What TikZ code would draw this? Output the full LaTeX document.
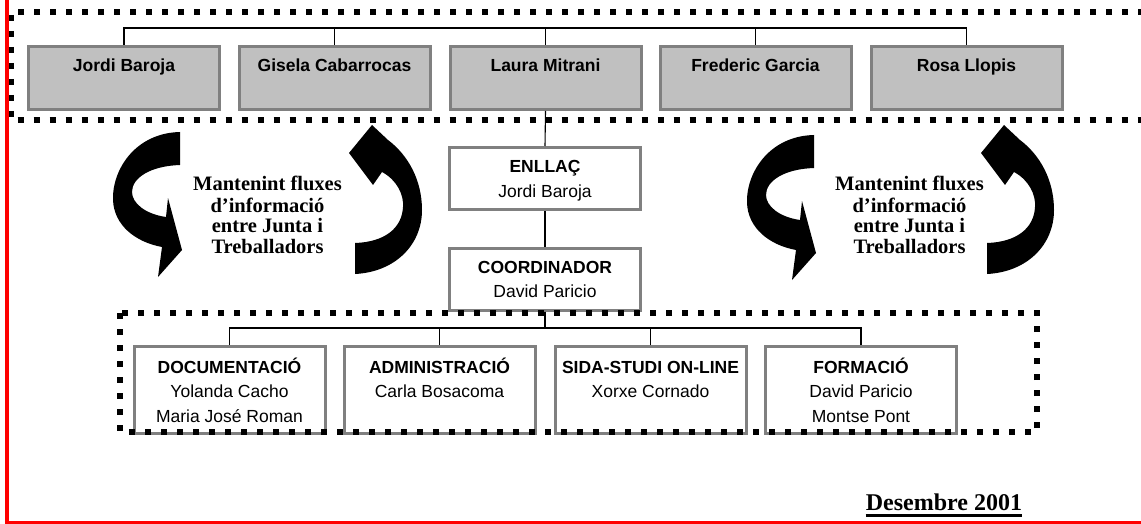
\documentclass[tikz,border=0pt]{standalone}
\usepackage{fontspec}
\setmainfont{Liberation Sans}
\newfontfamily\tnr{Liberation Serif}
\definecolor{boxline}{HTML}{808080}
\definecolor{boxfill}{HTML}{C0C0C0}
\definecolor{pagered}{HTML}{FF0000}
\begin{document}
\begin{tikzpicture}[x=1pt,y=-1pt,
  topbox/.style={draw=boxline,fill=boxfill,line width=3pt,minimum width=191pt,minimum height=63pt,inner sep=0pt},
  midbox/.style={draw=boxline,fill=white,line width=3pt,minimum width=191pt,minimum height=62pt,inner sep=0pt},
  lowbox/.style={draw=boxline,fill=white,line width=3pt,minimum width=191pt,minimum height=87pt,inner sep=0pt},
  conn/.style={draw=black,line width=1.1pt},
  dotline/.style={draw=black,line width=6pt,dash pattern=on 6pt off 10pt},
  bt/.style={font=\fontsize{17.5}{20}\selectfont\bfseries,anchor=base,inner sep=0pt},
  rt/.style={font=\fontsize{17.5}{20}\selectfont,anchor=base,inner sep=0pt},
  st/.style={font=\tnr\fontsize{20.5}{21}\selectfont\bfseries,anchor=base,inner sep=0pt},
  flow/.style={fill=black}]
\useasboundingbox (0,0) rectangle (1141,524);
\clip (0,0) rectangle (1141,524);
\fill[white] (0,0) rectangle (1141,524);

% top row
\node[topbox] (jb) at (124,78) {};
\node[topbox] (gc) at (334.5,78) {};
\node[topbox] (lm) at (545.5,78) {};
\node[topbox] (fg) at (755.5,78) {};
\node[topbox] (rl) at (966.5,78) {};
\coordinate (tbar) at (0,28);
\draw[conn] (jb.north) -- (jb.north |- tbar) -- (rl.north |- tbar) -- (rl.north);
\draw[conn] (gc.north) -- (gc.north |- tbar);
\draw[conn] (lm.north) -- (lm.north |- tbar);
\draw[conn] (fg.north) -- (fg.north |- tbar);
\node[bt] (tjb) at (124,72) {Jordi Baroja};
\node[bt] (tgc) at (334.5,72) {Gisela Cabarrocas};
\node[bt] (tlm) at (545.5,72) {Laura Mitrani};
\node[bt] (tfg) at (755.5,72) {Frederic Garcia};
\node[bt] (trl) at (966.5,72) {Rosa Llopis};

% middle
\node[midbox] (en) at (545,178.5) {};
\node[midbox] (co) at (545,279) {};
\draw[conn] (lm.south) -- (en.north);
\draw[conn] (en.south) -- (co.north);
\node[bt] (ten) at (545,172) {ENLLAÇ};
\node[rt] (ten2) at (545,197) {Jordi Baroja};
\node[bt] (tco) at (545,273) {COORDINADOR};
\node[rt] (tco2) at (545,297) {David Paricio};

% lower row
\node[lowbox] (doc) at (229.5,390) {};
\node[lowbox] (adm) at (439.5,390) {};
\node[lowbox] (sida) at (650.5,390) {};
\node[lowbox] (form) at (861,390) {};
\coordinate (lbar) at (0,328);
\draw[conn] (co.south) -- (co.south |- lbar);
\draw[conn] (doc.north) -- (doc.north |- lbar) -- (form.north |- lbar) -- (form.north);
\draw[conn] (adm.north) -- (adm.north |- lbar);
\draw[conn] (sida.north) -- (sida.north |- lbar);
\node[bt] at (229.5,373) {DOCUMENTACIÓ};
\node[rt] at (229.5,397) {Yolanda Cacho};
\node[rt] at (229.5,422) {Maria José Roman};
\node[bt] at (439.5,373) {ADMINISTRACIÓ};
\node[rt] at (439.5,397) {Carla Bosacoma};
\node[bt] at (650.5,373) {SIDA-STUDI ON-LINE};
\node[rt] at (650.5,397) {Xorxe Cornado};
\node[bt] at (861,373) {FORMACIÓ};
\node[rt] at (861,397) {David Paricio};
\node[rt] at (861,422) {Montse Pont};

% dotted frames
\draw[dotline] (1160,12.5) -- (10.5,12.5) -- (10.5,120) -- (1160,120);
\draw[dotline] (120,313) rectangle (1037,432);

% curved arrows and texts
\foreach \dx/\dy in {0/0, 634/3}{
\begin{scope}[shift={(\dx,\dy)}]
\fill[flow] (180,132) .. controls (135,133) and (112,170) .. (113,200)
  .. controls (114,225) and (135,242) .. (162,247) -- (158,277) -- (182,250)
  -- (168,198) -- (166,217) .. controls (145,214) and (132,203) .. (132,192)
  .. controls (132,178) and (150,166) .. (180,165) -- cycle;
\end{scope}}
\foreach \dx in {0,632}{
\begin{scope}[shift={(\dx,0)}]
\fill[flow] (355,243) -- (355,274) .. controls (395,272) and (422,245) .. (422,210)
  .. controls (422,180) and (408,155) .. (388,140) -- (372,125) -- (349,153)
  -- (373,185) -- (382,172) .. controls (397,180) and (404,195) .. (403,207)
  .. controls (402,228) and (385,242) .. (355,243) -- cycle;
\end{scope}}
\foreach \cx/\nm in {267.5/a, 909.5/b}{
\node[st] (m1\nm) at (\cx,190) {Mantenint fluxes};
\node[st] (m2\nm) at (\cx,212) {d’informació};
\node[st] (m3\nm) at (\cx,232) {entre Junta i};
\node[st] (m4\nm) at (\cx,253) {Treballadors};
}

% date
\node[font=\tnr\fontsize{24}{26}\selectfont\bfseries,anchor=base,inner sep=0pt] (date) at (944,510) {Desembre 2001};
\draw[line width=3pt] ([yshift=-5.5pt]date.base west) -- ([yshift=-5.5pt]date.base east);

% red page edge
\draw[pagered,line width=3.5pt] (7,0) -- (7,522.5) -- (1141,522.5);
\end{tikzpicture}
\end{document}
